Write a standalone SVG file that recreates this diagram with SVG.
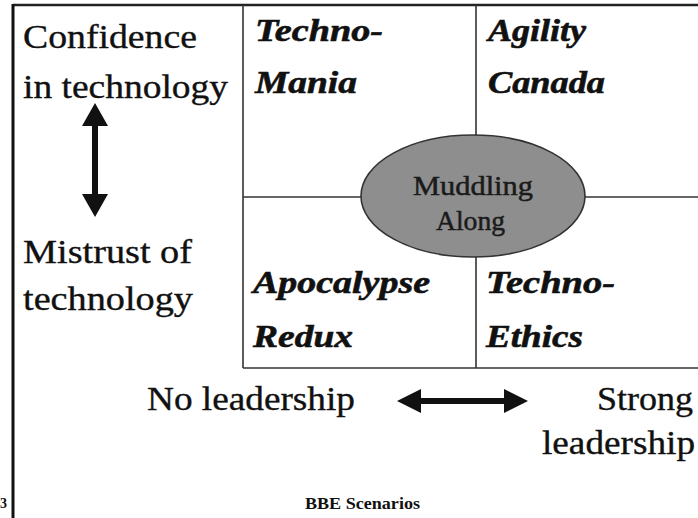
<svg xmlns="http://www.w3.org/2000/svg" width="698" height="518" viewBox="0 0 698 518">
<style>
.axis{font-family:"Liberation Serif","Times New Roman",serif;font-size:33px;fill:#111;stroke:#111;stroke-width:0.35}
.quad{font-family:"Liberation Serif","Times New Roman",serif;font-size:32px;font-weight:bold;font-style:italic;fill:#111;stroke:#111;stroke-width:0.6}
.mud{font-family:"Liberation Serif","Times New Roman",serif;font-size:28px;fill:#1a1a1a;stroke:#1a1a1a;stroke-width:0.5}
.grid{stroke:#333;stroke-width:1.6;fill:none}
.arrow{fill:#111}
</style>
<rect width="698" height="518" fill="#fff"/>
<g id="frame">
<line x1="13" y1="5" x2="698" y2="5" stroke="#222" stroke-width="2.5"/>
<line x1="13" y1="4" x2="13" y2="518" stroke="#111" stroke-width="3"/>
</g>
<g id="grid">
<line class="grid" x1="243" y1="5" x2="243" y2="368"/>
<line class="grid" x1="476" y1="5" x2="476" y2="368"/>
<line class="grid" x1="243" y1="197" x2="698" y2="197"/>
<line class="grid" x1="243" y1="368" x2="698" y2="368"/>
</g>
<g id="confidence">
<text class="axis" x="23" y="48" textLength="174" lengthAdjust="spacingAndGlyphs">Confidence</text>
<text class="axis" x="23" y="98" textLength="205" lengthAdjust="spacingAndGlyphs">in technology</text>
</g>
<g id="mistrust">
<text class="axis" x="23" y="263" textLength="169" lengthAdjust="spacingAndGlyphs">Mistrust of</text>
<text class="axis" x="23" y="310" textLength="170" lengthAdjust="spacingAndGlyphs">technology</text>
</g>
<g id="connectors">
<polygon class="arrow" points="95,103 108,126 98,126 98,194 108,194 95,217 82,194 92,194 92,126 82,126"/>
<polygon class="arrow" points="397,401 421,389 421,398 504,398 504,389 528,401 504,413 504,404 421,404 421,413"/>
</g>
<g id="techno-mania">
<text class="quad" x="255" y="41" textLength="128" lengthAdjust="spacingAndGlyphs">Techno-</text>
<text class="quad" x="255" y="93" textLength="102" lengthAdjust="spacingAndGlyphs">Mania</text>
</g>
<g id="agility-canada">
<text class="quad" x="488" y="41" textLength="98" lengthAdjust="spacingAndGlyphs">Agility</text>
<text class="quad" x="488" y="93" textLength="117" lengthAdjust="spacingAndGlyphs">Canada</text>
</g>
<g id="apocalypse-redux">
<text class="quad" x="253" y="293" textLength="177" lengthAdjust="spacingAndGlyphs">Apocalypse</text>
<text class="quad" x="253" y="347" textLength="100" lengthAdjust="spacingAndGlyphs">Redux</text>
</g>
<g id="techno-ethics">
<text class="quad" x="486" y="293" textLength="129" lengthAdjust="spacingAndGlyphs">Techno-</text>
<text class="quad" x="486" y="347" textLength="97" lengthAdjust="spacingAndGlyphs">Ethics</text>
</g>
<g id="muddling-along">
<ellipse cx="473" cy="196" rx="112" ry="61" fill="#8e8e8e" stroke="#333" stroke-width="1.6"/>
<text class="mud" x="413" y="195" textLength="120" lengthAdjust="spacingAndGlyphs">Muddling</text>
<text class="mud" x="436" y="230" textLength="69" lengthAdjust="spacingAndGlyphs">Along</text>
</g>
<g id="no-leadership">
<text class="axis" x="147" y="410" textLength="208" lengthAdjust="spacingAndGlyphs">No leadership</text>
</g>
<g id="strong-leadership">
<text class="axis" x="597" y="410" textLength="96" lengthAdjust="spacingAndGlyphs">Strong</text>
<text class="axis" x="542" y="454" textLength="153" lengthAdjust="spacingAndGlyphs">leadership</text>
</g>
<g id="footer">
<text x="0" y="508" font-family="Liberation Serif, Times New Roman, serif" font-size="14" font-weight="bold" fill="#111">3</text>
<text x="305" y="509" font-family="Liberation Serif, Times New Roman, serif" font-size="16" font-weight="bold" fill="#111" textLength="115" lengthAdjust="spacingAndGlyphs">BBE Scenarios</text>
</g>
</svg>
